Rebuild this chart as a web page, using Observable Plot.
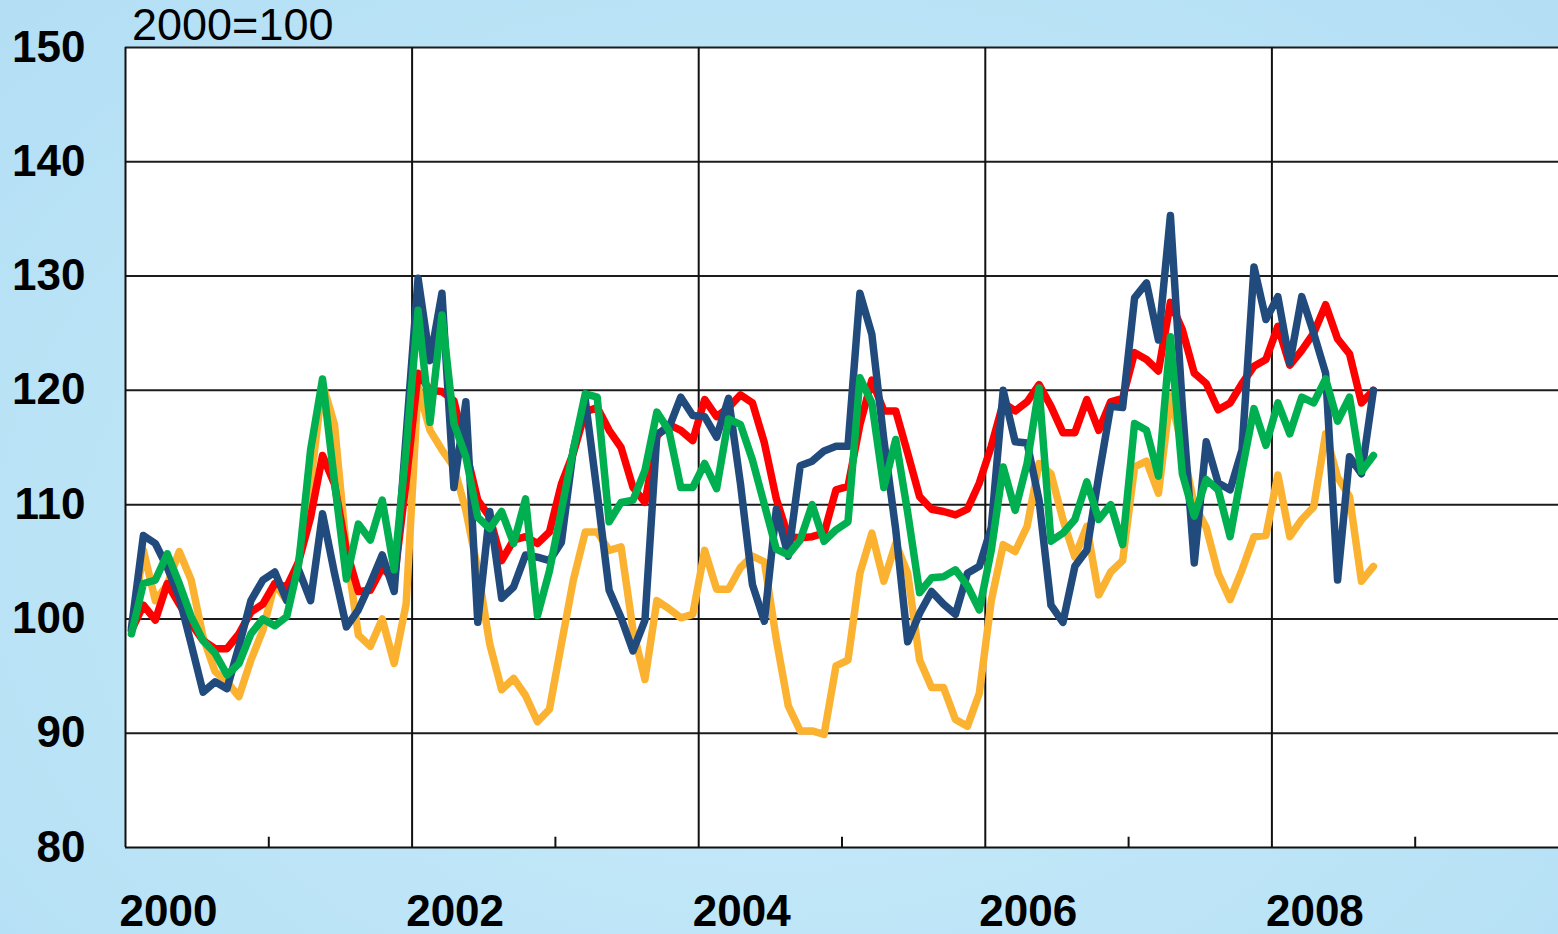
<!DOCTYPE html>
<html><head><meta charset="utf-8">
<script src="https://cdn.jsdelivr.net/npm/d3@7"></script>
<script src="https://cdn.jsdelivr.net/npm/@observablehq/plot@0.6"></script>
<style>
html,body{margin:0;padding:0;width:1558px;height:934px;overflow:hidden;}
body{background:radial-gradient(ellipse at 50% 60%, #c9ebfa 0%, #bde5f7 55%, #b3def4 100%);position:relative;font-family:"Liberation Sans",Arial,sans-serif;}
#chart{position:absolute;left:0;top:0;}
#unit{position:absolute;left:132px;top:2px;font-size:45px;line-height:1;color:#000;}
</style></head><body>
<div id="chart"></div>
<div id="unit">2000=100</div>
<script>
// Monthly index values, Jan 2000 .. Sep 2008 (2000=100)
const seriesNames = ["Series A", "Series B", "Series C", "Series D"];
const seriesColors = ["#fcb231", "#ff0000", "#214a7d", "#00b050"];

const orange = [99,106,101.6,103,105.9,103.4,98.4,95.4,94.5,93.2,96.4,99,
  103.1,101.6,105.1,111.8,120.6,117,106,98.6,97.6,100,96.1,101.3,
  120.3,116.5,114.8,113.3,109.5,104.3,97.8,93.8,94.8,93.3,91,92.1,
  97.8,103.4,107.6,107.6,106,106.3,99,94.7,101.6,100.9,100.1,100.4,
  106,102.6,102.6,104.5,105.5,105,98.2,92.4,90.2,90.2,89.9,95.9,
  96.4,104,107.5,103.3,106.6,104,96.4,94,94,91.2,90.6,93.5,
  101.6,106.5,105.9,108.1,113.6,112.7,108.7,105.4,108.1,102.1,104.1,105.1,
  113.3,113.8,111,119.5,115,110,108,104,101.7,104.3,107.2,107.3,
  112.6,107.2,108.7,109.8,116.2,112.4,110.7,103.3,104.6];

const red = [99,101.2,99.9,103.1,101.3,99.6,98.1,97.4,97.4,98.7,100.6,101.3,
  103.1,102.8,105,108.9,114.3,111.8,106,102.4,102.5,104.5,103.4,112,
  121.5,120,119.9,119.1,114.7,110.4,108.9,105.1,106.9,107.2,106.6,107.6,
  111.8,114.5,118.1,118.5,116.5,115,111.5,110.2,116,117,116.5,115.6,
  119.2,117.7,118.5,119.6,118.9,115.4,110.5,107.2,107.1,107.2,107.5,111.3,
  111.6,117,120.9,118.2,118.2,114.5,110.7,109.6,109.4,109.1,109.6,111.9,
  115.1,118.9,118.2,119,120.5,118.6,116.3,116.3,119.2,116.5,119,119.3,
  123.3,122.7,121.7,127.7,125.3,121.5,120.6,118.3,118.9,120.6,122.1,122.7,
  125.6,122.2,123.5,125,127.5,124.5,123.2,118.9,120];

const blue = [99.2,107.3,106.6,104.5,101.9,97.8,93.6,94.5,93.9,97.6,101.6,103.4,
  104.1,101.6,104.3,101.6,109.2,104,99.3,100.8,103.1,105.6,102.4,116,
  129.8,122.6,128.5,111.5,119,99.7,109.4,101.8,102.8,105.6,105.4,105.1,
  106.7,114.8,119.2,111,102.5,100.1,97.2,99.9,116.2,116.7,119.4,117.8,
  117.7,115.9,119.3,111.8,103,99.8,109.6,105.5,113.4,113.8,114.7,115.1,
  115.1,128.5,124.9,115.7,107.8,98,100.5,102.4,101.3,100.4,104,104.6,
  108,120,115.5,115.4,110.4,101.2,99.7,104.6,106,112.5,118.6,118.5,
  128.1,129.4,124.4,135.3,118.6,104.9,115.5,111.9,111.3,114.8,130.8,126.2,
  128.2,122.4,128.2,125,121.5,103.4,114.2,112.7,120];

const green = [98.7,103.1,103.4,105.7,103.1,100.2,98.1,97,95.1,96.1,98.7,100,
  99.4,100.2,104.8,114.8,121,112,103.5,108.3,106.9,110.4,104.3,114.8,
  127,117.2,126.6,117.1,114.2,108.9,107.9,109.4,106.6,110.5,100.3,104.2,
  109.5,114.8,119.7,119.4,108.5,110.2,110.4,113,118.1,116.5,111.5,111.5,
  113.6,111.4,117.5,117,113.9,110,106.1,105.6,106.9,110,106.8,107.8,
  108.5,121.1,118.9,111.5,115.7,109.3,102.3,103.6,103.7,104.3,102.9,100.8,
  106,113.3,109.5,113.6,120.2,106.8,107.5,108.7,112,108.7,110,106.5,
  117.1,116.5,112.5,124.7,112.7,109,112.2,111.3,107.2,113,118.4,115.2,
  118.9,116.2,119.4,118.9,121,117.3,119.4,112.9,114.3];

const yTicks = [80, 90, 100, 110, 120, 130, 140, 150];
const yGrid = [90, 100, 110, 120, 130, 140, 150];
const gridYears = [2002, 2004, 2006, 2008];
const minorYears = [2001, 2003, 2005, 2007, 2009];
const labelYears = [2000, 2002, 2004, 2006, 2008];

const allSeries = [orange, red, blue, green];
const rows = allSeries.flatMap((vals, s) =>
  vals.map((v, i) => ({series: seriesNames[s], t: 2000 + (i + 0.5) / 12, v})));

const chart = Plot.plot({
  width: 1558, height: 934,
  marginLeft: 125, marginRight: 0, marginTop: 47, marginBottom: 87,
  style: {background: "transparent", fontFamily: "'Liberation Sans', Arial, sans-serif", color: "#000"},
  x: {domain: [2000, 2010]},
  y: {domain: [80, 150]},
  color: {domain: seriesNames, range: seriesColors},
  marks: [
    Plot.frame({fill: "white", stroke: null}),
    Plot.ruleY(yGrid, {stroke: "#1c1c1c", strokeWidth: 2}),
    Plot.ruleX(gridYears, {stroke: "#111", strokeWidth: 2}),
    Plot.ruleX(minorYears, {y1: 80, y2: 80.9, stroke: "#111", strokeWidth: 2}),
    Plot.ruleX([2000], {stroke: "#111", strokeWidth: 2}),
    Plot.ruleY([80], {stroke: "#111", strokeWidth: 2}),
    Plot.lineY(rows, {x: "t", y: "v", z: "series", stroke: "series", strokeWidth: 7.5, strokeLinejoin: "round", strokeLinecap: "round"}),
    Plot.axisY({ticks: yTicks, tickSize: 0, tickPadding: 40, fontSize: 44, fontWeight: "bold", label: null, tickFormat: d => String(d)}),
    Plot.axisX({ticks: labelYears, tickSize: 0, tickPadding: 47, dx: 43, fontSize: 44, fontWeight: "bold", label: null, tickFormat: d => String(d)})
  ]
});
document.getElementById("chart").appendChild(chart);
</script>
</body></html>
